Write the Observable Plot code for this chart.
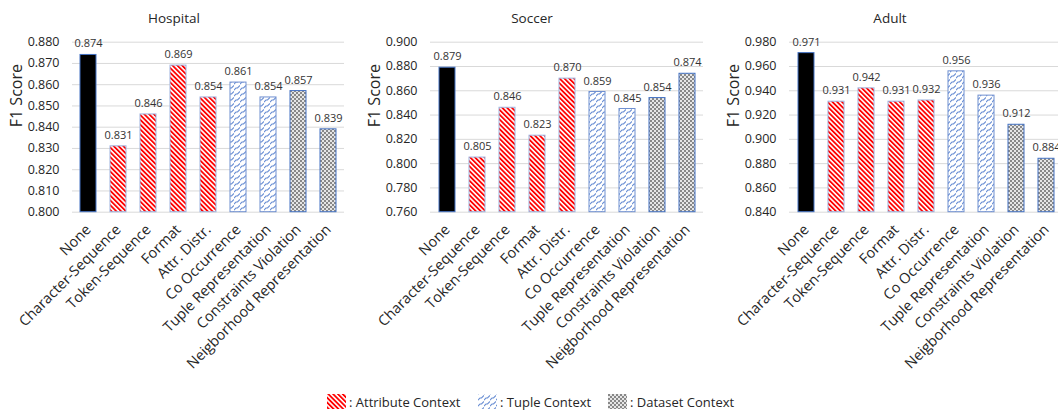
<!DOCTYPE html>
<html>
<head>
<meta charset="utf-8">
<script src="https://cdn.jsdelivr.net/npm/d3@7"></script>
<script src="https://cdn.jsdelivr.net/npm/@observablehq/plot@0.6"></script>
<style>
  body { margin: 0; background: #fff; font-family: "Open Sans", sans-serif; }
  #wrap { position: relative; width: 1058px; height: 413px; overflow: hidden; background: #fff; }
  .panel { position: absolute; top: 0; }
  .title { position: absolute; top: 8px; width: 200px; margin-left: -100px; text-align: center; font-size: 13.5px; color: #262626; line-height: 20px; }
  .leg { position: absolute; top: 394px; height: 15px; display: flex; align-items: center; font-size: 13px; color: #262626; white-space: nowrap; }
  .leg svg { margin-right: 3px; }
</style>
</head>
<body>
<div id="wrap">
  <svg width="0" height="0" style="position:absolute">
    <defs>
      <pattern id="pAttr" patternUnits="userSpaceOnUse" width="3.4" height="3.4" patternTransform="rotate(-45)">
        <rect x="0" y="0" width="3.4" height="3.4" fill="#ffffff"></rect>
        <rect x="0" y="0" width="1.8" height="3.4" fill="#ff0000"></rect>
      </pattern>
      <pattern id="pTuple" patternUnits="userSpaceOnUse" width="6" height="6">
        <rect x="0" y="0" width="6" height="6" fill="#ffffff"></rect>
        <path d="M0,6 L2,4 L3.5,4 L6,1.5 M-1,1 L0.5,-0.5" stroke="#6a8fd4" stroke-width="1.1" fill="none"></path>
      </pattern>
      <pattern id="pData" patternUnits="userSpaceOnUse" width="4" height="4">
        <rect x="0" y="0" width="4" height="4" fill="#e6e6e6"></rect>
        <rect x="0" y="0" width="2" height="2" fill="#888888"></rect>
        <rect x="2" y="2" width="2" height="2" fill="#888888"></rect>
      </pattern>
    </defs>
  </svg>
</div>
<script>
// ---- Data ----
const categories = ["None", "Character-Sequence", "Token-Sequence", "Format", "Attr. Distr.",
  "Co Occurrence", "Tuple Representation", "Constraints Violation", "Neigborhood Representation"];
const contexts = ["none", "attribute", "attribute", "attribute", "attribute", "tuple", "tuple", "dataset", "dataset"];
const datasetNames = ["Hospital", "Soccer", "Adult"];
const hospitalValues = [0.874, 0.831, 0.846, 0.869, 0.854, 0.861, 0.854, 0.857, 0.839];
const soccerValues = [0.879, 0.805, 0.846, 0.823, 0.870, 0.859, 0.845, 0.854, 0.874];
const adultValues = [0.971, 0.931, 0.942, 0.931, 0.932, 0.956, 0.936, 0.912, 0.884];
const hospitalTicks = [0.80, 0.81, 0.82, 0.83, 0.84, 0.85, 0.86, 0.87, 0.88];
const soccerTicks = [0.76, 0.78, 0.80, 0.82, 0.84, 0.86, 0.88, 0.90];
const adultTicks = [0.84, 0.86, 0.88, 0.90, 0.92, 0.94, 0.96, 0.98];
const legendLabels = [": Attribute Context", ": Tuple Context", ": Dataset Context"];

// ---- Styles ----
const fills = { none: "#000000", attribute: "url(#pAttr)", tuple: "url(#pTuple)", dataset: "url(#pData)" };
const strokes = { none: "#4472c4", attribute: "#9db4e0", tuple: "#6f8fd0", dataset: "#4472c4" };

const panels = [
  { values: hospitalValues, ticks: hospitalTicks, left: 0, width: 350, ml: 72, mr: 6, center: 174 },
  { values: soccerValues, ticks: soccerTicks, left: 350, width: 360, ml: 80, mr: 7, center: 532 },
  { values: adultValues, ticks: adultTicks, left: 710, width: 360, ml: 79, mr: 8, center: 890 }
];

const wrap = document.getElementById("wrap");

panels.forEach((cfg, k) => {
  const data = categories.map((c, i) => ({ category: c, context: contexts[i], value: cfg.values[i] }));
  const y0 = cfg.ticks[0];
  const chart = Plot.plot({
    width: cfg.width,
    height: 380,
    marginLeft: cfg.ml,
    marginRight: cfg.mr,
    marginTop: 41.7,
    marginBottom: 168.3,
    style: { fontFamily: "Open Sans", fontSize: "12px", color: "#262626", background: "transparent", overflow: "visible" },
    x: { domain: categories, paddingInner: 0.47, paddingOuter: 0.235 },
    y: { domain: [cfg.ticks[0], cfg.ticks[cfg.ticks.length - 1]] },
    color: { type: "identity" },
    marks: [
      Plot.ruleY(cfg.ticks, { stroke: "#d9d9d9", strokeWidth: 1 }),
      Plot.barY(data, {
        x: "category", y1: y0, y2: "value",
        fill: d => fills[d.context], stroke: d => strokes[d.context], strokeWidth: 1
      }),
      Plot.text(data, {
        x: "category", y: "value", text: d => d.value.toFixed(3),
        dy: -11, fontSize: 11, fill: "#333333"
      }),
      Plot.axisY({
        ticks: cfg.ticks, tickFormat: d => d.toFixed(3), tickSize: 0, tickPadding: 13,
        fontSize: 12.5, label: null, fill: "#262626"
      }),
      Plot.text(["F1 Score"], {
        text: d => d, frameAnchor: "left", rotate: -90, dx: -56, fontSize: 16, fill: "#262626"
      }),
      Plot.axisX({
        tickRotate: -45, tickSize: 0, tickPadding: 15, fontSize: 14.5, label: null, fill: "#262626"
      })
    ]
  });
  chart.classList.add("panel");
  chart.style.left = cfg.left + "px";
  wrap.appendChild(chart);

  const t = document.createElement("div");
  t.className = "title";
  t.style.left = cfg.center + "px";
  t.textContent = datasetNames[k];
  wrap.appendChild(t);
});

// ---- Legend ----
const legendItems = [
  { label: legendLabels[0], fill: fills.attribute, left: 327 },
  { label: legendLabels[1], fill: fills.tuple, left: 478 },
  { label: legendLabels[2], fill: fills.dataset, left: 608 }
];
legendItems.forEach(item => {
  const d = document.createElement("div");
  d.className = "leg";
  d.style.left = item.left + "px";
  d.innerHTML = `<svg width="19" height="15"><rect x="0" y="0" width="19" height="15" fill="${item.fill}"></rect></svg><span>${item.label}</span>`;
  wrap.appendChild(d);
});
</script>
</body>
</html>
